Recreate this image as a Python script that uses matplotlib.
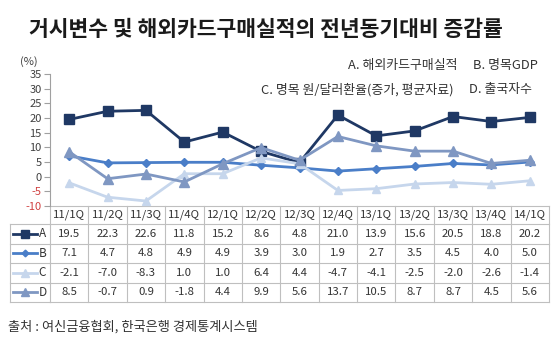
import matplotlib
matplotlib.use("Agg")
import matplotlib.pyplot as plt
from matplotlib.transforms import blended_transform_factory

plt.rcParams['font.family'] = ['Noto Sans CJK KR', 'DejaVu Sans']

title = "거시변수 및 해외카드구매실적의 전년동기대비 증감률"
source = "출처 : 여신금융협회, 한국은행 경제통계시스템"
quarters = ["11/1Q", "11/2Q", "11/3Q", "11/4Q", "12/1Q", "12/2Q", "12/3Q",
            "12/4Q", "13/1Q", "13/2Q", "13/3Q", "13/4Q", "14/1Q"]
series_keys = ["A", "B", "C", "D"]
series_names = ["A. 해외카드구매실적", "B. 명목GDP",
                "C. 명목 원/달러환율(증가, 평균자료)", "D. 출국자수"]
A = [19.5, 22.3, 22.6, 11.8, 15.2, 8.6, 4.8, 21.0, 13.9, 15.6, 20.5, 18.8, 20.2]
B = [7.1, 4.7, 4.8, 4.9, 4.9, 3.9, 3.0, 1.9, 2.7, 3.5, 4.5, 4.0, 5.0]
C = [-2.1, -7.0, -8.3, 1.0, 1.0, 6.4, 4.4, -4.7, -4.1, -2.5, -2.0, -2.6, -1.4]
D = [8.5, -0.7, 0.9, -1.8, 4.4, 9.9, 5.6, 13.7, 10.5, 8.7, 8.7, 4.5, 5.6]
yticks = [-10, -5, 0, 5, 10, 15, 20, 25, 30, 35]

colors = ["#1f3864", "#4a7ec8", "#c6d6ec", "#7f97c2"]
markers = ["s", "D", "^", "^"]
msizes = [7, 4, 6, 7.5]
data = [A, B, C, D]

W, H = 560, 343
fig = plt.figure(figsize=(W / 100, H / 100), dpi=100)
bg = fig.add_axes([0, 0, 1, 1])
bg.set_xlim(0, W)
bg.set_ylim(H, 0)
bg.axis("off")

pl, pr, pt, pb = 50, 549, 74, 206
ax = fig.add_axes([pl / W, 1 - pb / H, (pr - pl) / W, (pb - pt) / H])
ax.patch.set_alpha(0)
n = len(quarters)
x = list(range(n))
ax.set_xlim(-0.5, n - 0.5)
ax.set_ylim(-10, 35)

order = [2, 1, 3, 0]
for i in order:
    ax.plot(x, data[i], color=colors[i], lw=2.0, marker=markers[i],
            ms=msizes[i], mec=colors[i], mfc=colors[i], zorder=3 + i,
            clip_on=False)

ax.set_yticks(yticks)
ax.set_yticklabels([str(v) for v in yticks], fontsize=8, color="#404040")
for lab, v in zip(ax.get_yticklabels(), yticks):
    if v < 0:
        lab.set_color("#d04040")
ax.tick_params(axis="y", length=4, width=0.8, color="#a0a0a0", pad=2)
ax.set_xticks([])
for s in ["top", "right", "bottom"]:
    ax.spines[s].set_visible(False)
ax.spines["left"].set_color("#a0a0a0")
ax.spines["left"].set_linewidth(0.8)

# Texts
bg.text(266, 30, title, fontsize=15.5, fontweight="bold", ha="center",
        va="center", color="#1a1a1a")
bg.text(29, 62, "(%)", fontsize=8, ha="center", va="center", color="#404040")
bg.text(457, 66, series_names[0], fontsize=9.3, ha="right", va="center", color="#333333")
bg.text(473, 66, series_names[1], fontsize=9.3, ha="left", va="center", color="#333333")
bg.text(454, 90, series_names[2], fontsize=9.3, ha="right", va="center", color="#333333")
bg.text(469, 90, series_names[3], fontsize=9.3, ha="left", va="center", color="#333333")
bg.text(8, 327, source, fontsize=9.5, ha="left", va="center", color="#333333")

# Table
tr = blended_transform_factory(ax.transData, bg.transData)
gc = "#bfbfbf"
rows_y = [206, 224, 243.5, 263, 282.5, 302]
xl = -0.5
xr = n - 0.5
bg.plot([xl, xr], [rows_y[0]] * 2, color=gc, lw=0.8, transform=tr)
for yy in rows_y[1:]:
    bg.plot([10, pl], [yy, yy], color=gc, lw=0.8)
    bg.plot([xl, xr], [yy, yy], color=gc, lw=0.8, transform=tr)
bg.plot([10, 10], [rows_y[1], rows_y[-1]], color=gc, lw=0.8)
for k in range(n + 1):
    bg.plot([k - 0.5, k - 0.5], [rows_y[0], rows_y[-1]], color=gc, lw=0.8,
            transform=tr)
for k, q in enumerate(quarters):
    bg.text(k, (rows_y[0] + rows_y[1]) / 2, q, fontsize=8.2, ha="center",
            va="center", color="#333333", transform=tr)
for r in range(4):
    yc = (rows_y[r + 1] + rows_y[r + 2]) / 2
    bg.plot([13, 37], [yc, yc], color=colors[r], lw=2.0)
    bg.plot([25], [yc], marker=markers[r], ms=msizes[r] * 0.85, color=colors[r])
    bg.text(38.5, yc, series_keys[r], fontsize=8.5, ha="left", va="center", color="#333333")
    for k in range(n):
        bg.text(k, yc, f"{data[r][k]:.1f}", fontsize=8.2, ha="center",
                va="center", color="#333333", transform=tr)

fig.savefig("out.png", dpi=100)
